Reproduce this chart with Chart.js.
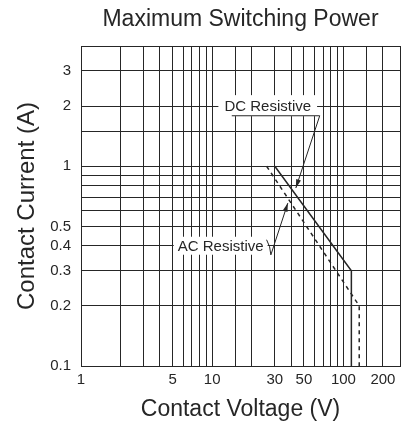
<!DOCTYPE html>
<html>
<head>
<meta charset="utf-8">
<script src="https://cdn.jsdelivr.net/npm/chart.js@4/dist/chart.umd.min.js"></script>
<style>
  html, body { margin: 0; padding: 0; background: #ffffff; }
  #wrap { width: 407px; height: 425px; }
</style>
</head>
<body>
<div id="wrap"><canvas id="c" width="407" height="425"></canvas></div>
<script>
// ---- data ----
const dcVoltage = [30, 115, 115];
const dcCurrent = [1, 0.3, 0.1];
const acVoltage = [26, 132, 132];
const acCurrent = [1, 0.2, 0.1];

const xTickLabels = [1, 5, 10, 30, 50, 100, 200];
const yTickLabels = [0.1, 0.2, 0.3, 0.4, 0.5, 1, 2, 3];

const chartTitle = 'Maximum Switching Power';
const xTitle = 'Contact Voltage (V)';
const yTitle = 'Contact Current (A)';

// annotation anchors in data units
const dcLabel = { text: 'DC Resistive', x: 26.5, y: 2 };
const dcLeader = { x0: 14.1, x1: 66, y: 1.79, tipX: 43.4, tipY: 0.778 };
const acLabel = { text: 'AC Resistive', x: 11.6, y: 0.4 };
const acLeader = { x0: 28, y0: 0.36, tipX: 37.7, tipY: 0.654 };

const toPts = (xs, ys) => xs.map((v, i) => ({ x: v, y: ys[i] }));
const near = (v, list) => list.some(t => Math.abs(v - t) / t < 1e-6);
const INK = '#262626';
const FONT = '"Liberation Sans", Arial, sans-serif';

function arrowHead(ctx, x0, y0, x1, y1, size) {
  const a = Math.atan2(y1 - y0, x1 - x0);
  ctx.beginPath();
  ctx.moveTo(x1, y1);
  ctx.lineTo(x1 - size * Math.cos(a - 0.28), y1 - size * Math.sin(a - 0.28));
  ctx.lineTo(x1 - size * Math.cos(a + 0.28), y1 - size * Math.sin(a + 0.28));
  ctx.closePath();
  ctx.fill();
}

const annotations = {
  id: 'annotations',
  afterDatasetsDraw(chart) {
    const { ctx, scales: { x, y } } = chart;
    ctx.save();
    ctx.font = '15px ' + FONT;
    ctx.textBaseline = 'middle';
    ctx.textAlign = 'center';
    ctx.strokeStyle = INK;
    ctx.fillStyle = INK;
    ctx.lineWidth = 1;

    // DC label
    let px = x.getPixelForValue(dcLabel.x), py = y.getPixelForValue(dcLabel.y);
    let w = ctx.measureText(dcLabel.text).width;
    ctx.fillStyle = '#fff';
    ctx.fillRect(px - w / 2 - 6, py - 11, w + 12, 21);
    ctx.fillStyle = INK;
    ctx.fillText(dcLabel.text, px, py + 1);
    const uy = y.getPixelForValue(dcLeader.y);
    const ux0 = x.getPixelForValue(dcLeader.x0), ux1 = x.getPixelForValue(dcLeader.x1);
    const tx = x.getPixelForValue(dcLeader.tipX), ty = y.getPixelForValue(dcLeader.tipY);
    ctx.beginPath();
    ctx.moveTo(ux0, uy); ctx.lineTo(ux1, uy); ctx.lineTo(tx, ty);
    ctx.stroke();
    arrowHead(ctx, ux1, uy, tx, ty, 9);

    // AC label
    px = x.getPixelForValue(acLabel.x); py = y.getPixelForValue(acLabel.y);
    w = ctx.measureText(acLabel.text).width;
    ctx.fillStyle = '#fff';
    ctx.fillRect(px - w / 2 - 4, py - 9, w + 8, 18);
    ctx.fillStyle = INK;
    ctx.fillText(acLabel.text, px, py + 1);
    const ax0 = x.getPixelForValue(acLeader.x0), ay0 = y.getPixelForValue(acLeader.y0);
    const atx = x.getPixelForValue(acLeader.tipX), aty = y.getPixelForValue(acLeader.tipY);
    ctx.beginPath();
    ctx.moveTo(px + w / 2 + 3, py - 6);
    ctx.lineTo(px + w / 2 + 6, py + 1);
    ctx.lineTo(ax0, ay0);
    ctx.lineTo(atx, aty);
    ctx.stroke();
    arrowHead(ctx, ax0, ay0, atx, aty, 9);

    ctx.restore();
  },
  afterDraw(chart) {
    const { ctx, chartArea } = chart;
    ctx.save();
    ctx.font = '23px ' + FONT;
    ctx.fillStyle = INK;
    ctx.textAlign = 'center';
    ctx.textBaseline = 'middle';
    const cx = (chartArea.left + chartArea.right) / 2;
    ctx.fillText(chartTitle, cx, 20);
    ctx.restore();
  }
};

new Chart(document.getElementById('c'), {
  type: 'scatter',
  data: {
    datasets: [
      {
        label: 'DC Resistive',
        data: toPts(dcVoltage, dcCurrent),
        showLine: true, borderColor: INK, borderWidth: 1.5,
        pointRadius: 0, tension: 0, fill: false
      },
      {
        label: 'AC Resistive',
        data: toPts(acVoltage, acCurrent),
        showLine: true, borderColor: INK, borderWidth: 1.5, borderDash: [4, 4],
        pointRadius: 0, tension: 0, fill: false
      }
    ]
  },
  options: {
    responsive: false,
    animation: false,
    devicePixelRatio: 1,
    layout: { padding: { left: 0, right: 7, top: 46, bottom: 0 } },
    plugins: {
      legend: { display: false },
      tooltip: { enabled: false },
      title: { display: false }
    },
    scales: {
      x: {
        type: 'logarithmic', min: 1, max: 270,
        afterFit(s) { s.height = 59; },
        grid: { color: INK, lineWidth: 1, drawTicks: false },
        border: { color: INK, width: 1 },
        ticks: {
          autoSkip: false, maxRotation: 0, padding: 5, color: INK,
          font: { family: FONT, size: 15 },
          callback: (v) => near(v, xTickLabels) ? String(v) : ''
        },
        title: {
          display: true, text: xTitle, color: INK,
          font: { family: FONT, size: 23 },
          padding: { top: 0, bottom: 2 }
        }
      },
      y: {
        type: 'logarithmic', min: 0.1, max: 4,
        afterFit(s) { s.width = 81; },
        grid: { color: INK, lineWidth: 1, drawTicks: false },
        border: { color: INK, width: 1 },
        ticks: {
          autoSkip: false, padding: 10, color: INK,
          font: { family: FONT, size: 15 },
          callback: (v) => near(v, yTickLabels) ? String(v) : ''
        },
        title: {
          display: true, text: yTitle, color: INK,
          font: { family: FONT, size: 24 },
          padding: { top: 13, bottom: 0 }
        }
      }
    }
  },
  plugins: [annotations]
});
</script>
</body>
</html>
